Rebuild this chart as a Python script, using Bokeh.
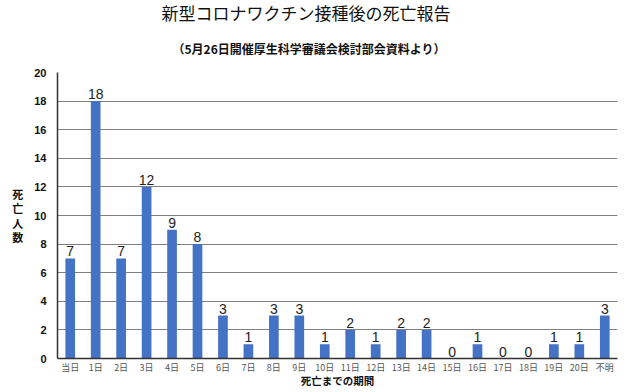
from bokeh.plotting import figure
from bokeh.models import ColumnDataSource, Title, FactorRange, Range1d, SingleIntervalTicker
from bokeh.core.properties import value
from bokeh.embed import file_html
from bokeh.resources import INLINE

categories = ["当日", "1日", "2日", "3日", "4日", "5日", "6日", "7日", "8日", "9日", "10日",
              "11日", "12日", "13日", "14日", "15日", "16日", "17日", "18日", "19日", "20日", "不明"]
deaths = [7, 18, 7, 12, 9, 8, 3, 1, 3, 3, 1, 2, 1, 2, 2, 0, 1, 0, 0, 1, 1, 3]
title_text = "新型コロナワクチン接種後の死亡報告"
subtitle_text = "（5月26日開催厚生科学審議会検討部会資料より）"
ylabel_text = "死\n亡\n人\n数"
xlabel_text = "死亡までの期間"

source = ColumnDataSource(dict(cat=categories, val=deaths, lab=[str(v) for v in deaths]))

JP = "Noto Sans CJK JP"

p = figure(width=626, height=392, x_range=FactorRange(*categories, range_padding=0),
           y_range=Range1d(0, 20), output_backend="svg", toolbar_location=None,
           min_border_left=57, min_border_right=9, min_border_top=72, min_border_bottom=34)
p.outline_line_color = None
p.background_fill_color = "white"
p.border_fill_color = "white"

p.vbar(x="cat", top="val", width=0.38, source=source, fill_color="#4472C4", line_color=None)
p.text(x="cat", y="val", text="lab", source=source, text_align="center", text_baseline="bottom",
       text_font=value("Liberation Sans"), text_font_size="14px", text_color="#222222", y_offset=-2)

p.yaxis.ticker = SingleIntervalTicker(interval=2)
p.yaxis.major_label_text_font = "Liberation Sans"
p.yaxis.major_label_text_font_style = "bold"
p.yaxis.major_label_text_font_size = "11px"
p.yaxis.major_label_text_color = "#111111"
p.yaxis.major_tick_out = 0
p.yaxis.major_tick_in = 0
p.yaxis.minor_tick_line_color = None
p.yaxis.major_label_standoff = 7
p.yaxis.axis_line_color = "#333333"
p.yaxis.axis_line_width = 1.5
p.yaxis.axis_label = ylabel_text
p.yaxis.axis_label_text_font = JP
p.yaxis.axis_label_text_font_size = "11px"
p.yaxis.axis_label_text_font_style = "bold"
p.yaxis.axis_label_text_color = "#111111"
p.yaxis.axis_label_text_line_height = 0.9
p.yaxis.axis_label_standoff = 8
yax = p.yaxis[0]
if "axis_label_orientation" in yax.properties():
    yax.axis_label_orientation = "horizontal"

p.xaxis.major_label_text_font = JP
p.xaxis.major_label_text_font_size = "9px"
p.xaxis.major_label_text_color = "#555555"
p.xaxis.major_tick_line_color = None
p.xaxis.major_tick_out = 0
p.xaxis.major_tick_in = 0
p.xaxis.major_label_standoff = 2
p.xaxis.axis_line_color = "#333333"
p.xaxis.axis_line_width = 1.5
p.xaxis.axis_label = xlabel_text
p.xaxis.axis_label_text_font = JP
p.xaxis.axis_label_text_font_size = "10.5px"
p.xaxis.axis_label_text_font_style = "bold"
p.xaxis.axis_label_text_color = "#111111"
p.xaxis.axis_label_standoff = -4

p.xgrid.grid_line_color = None
p.ygrid.grid_line_color = "#808080"
p.ygrid.grid_line_width = 1

p.add_layout(Title(text=subtitle_text, text_font=JP, text_font_size="12px",
                   text_font_style="bold", text_color="#111111", align="left",
                   offset=115, standoff=31), "above")
p.add_layout(Title(text=title_text, text_font=JP, text_font_size="17px",
                   text_font_style="normal", text_color="#111111", align="left",
                   offset=104, standoff=-5), "above")

open("out.html", "w").write(file_html(p, INLINE))
